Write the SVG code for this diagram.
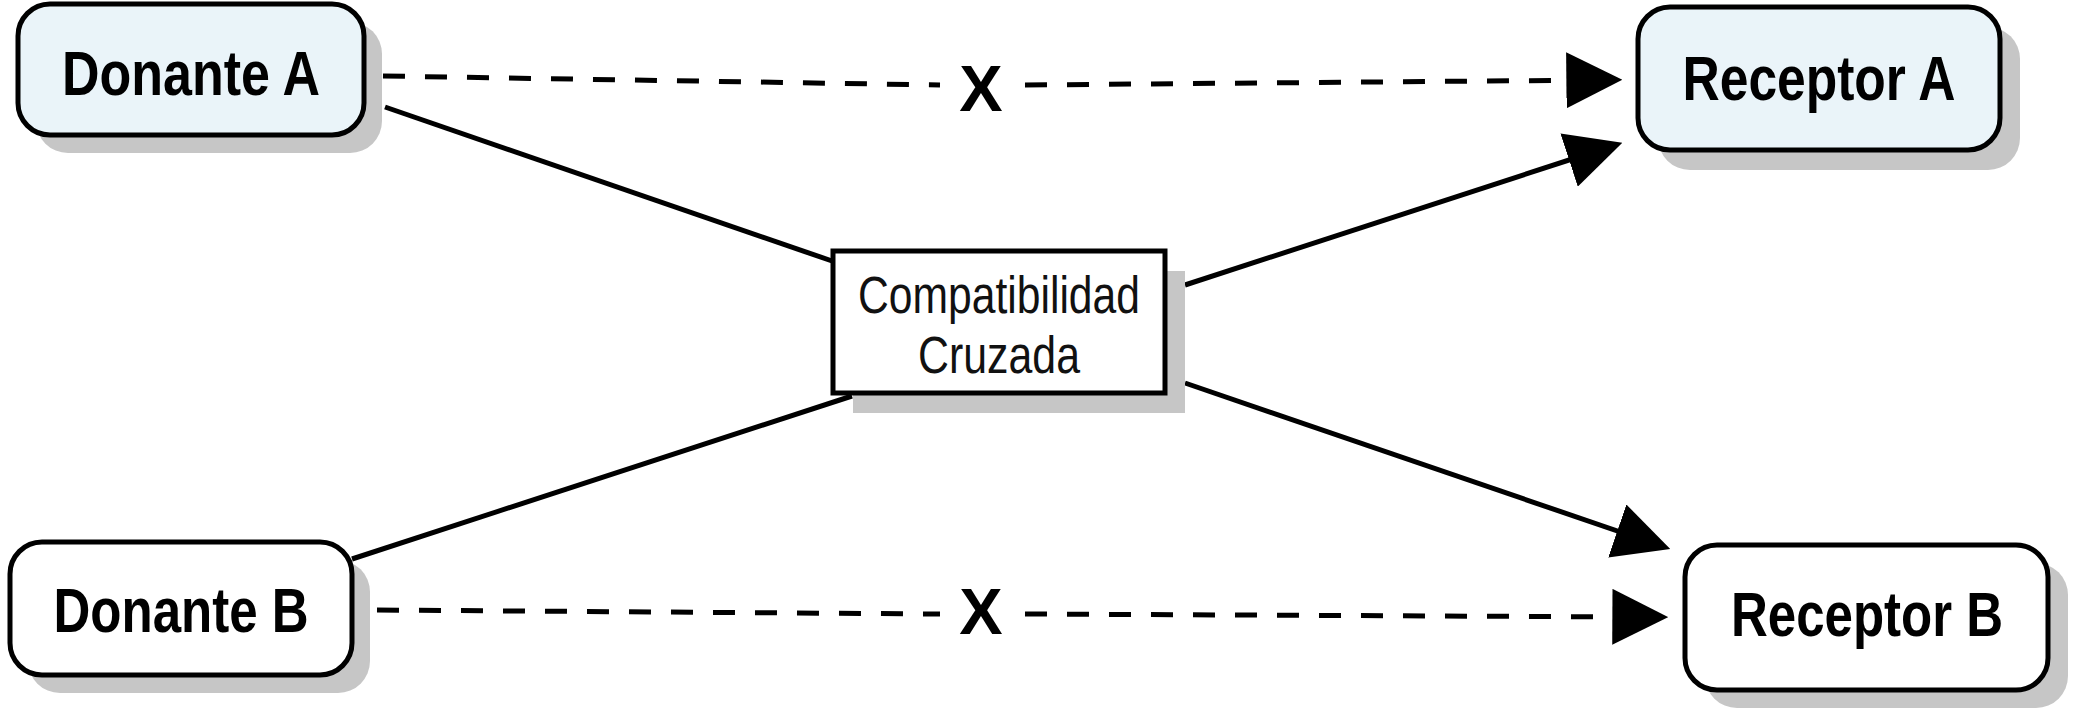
<svg xmlns="http://www.w3.org/2000/svg" width="2073" height="725" viewBox="0 0 2073 725">
<style>
.shadow{fill:#c6c6c6;stroke:none}
.box{stroke:#000;stroke-width:5}
.blue{fill:#eaf4f9}
.white{fill:#ffffff}
.lbl{font-family:"Liberation Sans Narrow","Arial Narrow","Liberation Sans",Arial,sans-serif;font-weight:bold;font-size:63px;fill:#000;text-anchor:middle}
.mid{font-family:"Liberation Sans Narrow","Arial Narrow","Liberation Sans",Arial,sans-serif;font-size:51px;fill:#111;text-anchor:middle}
.x{font-family:"Liberation Sans",Arial,sans-serif;font-weight:bold;font-size:65px;fill:#000;text-anchor:middle}
.solid{fill:none;stroke:#000;stroke-width:5}
.dash{fill:none;stroke:#000;stroke-width:5;stroke-dasharray:22 20}
</style>
<defs>
<marker id="arr" markerUnits="userSpaceOnUse" markerWidth="56" markerHeight="56" viewBox="0 0 55 55" refX="35" refY="27.5" orient="auto">
<path d="M0,0 L55,27.5 L0,55 z" fill="#000"/>
</marker>
</defs>
<rect width="2073" height="725" fill="#fff"/>
<g id="connectors">
<path class="solid" d="M385,107 L835,262"/>
<path class="solid" d="M352,559 L852,396"/>
<path class="solid" d="M1185,285 L1603,149" marker-end="url(#arr)"/>
<path class="solid" d="M1185,383 L1651,542.5" marker-end="url(#arr)"/>
<path class="dash" d="M383,76 L940,85 M1025,85 L1602,80" marker-end="url(#arr)"/>
<path class="dash" d="M377,610 L940,614 M1025,614 L1648,617" marker-end="url(#arr)"/>
<text class="x" x="981" y="111">X</text>
<text class="x" x="981" y="634">X</text>
</g>
<g id="donanteA">
<rect class="shadow" x="36" y="22" width="346" height="131" rx="32"/>
<rect class="box blue" x="18" y="4" width="346" height="131" rx="32"/>
<text class="lbl" x="191" y="95" textLength="258" lengthAdjust="spacingAndGlyphs">Donante A</text>
</g>
<g id="receptorA">
<rect class="shadow" x="1658" y="27" width="362" height="143" rx="32"/>
<rect class="box blue" x="1638" y="7" width="362" height="143" rx="32"/>
<text class="lbl" x="1819" y="100" textLength="273" lengthAdjust="spacingAndGlyphs">Receptor A</text>
</g>
<g id="compat">
<rect class="shadow" x="853" y="271" width="332" height="142"/>
<rect class="box white" x="833" y="251" width="332" height="142"/>
<text class="mid" x="999" y="313" textLength="282" lengthAdjust="spacingAndGlyphs">Compatibilidad</text>
<text class="mid" x="999" y="373" textLength="162" lengthAdjust="spacingAndGlyphs">Cruzada</text>
</g>
<g id="donanteB">
<rect class="shadow" x="28" y="560" width="342" height="133" rx="32"/>
<rect class="box white" x="10" y="542" width="342" height="133" rx="32"/>
<text class="lbl" x="181" y="632" textLength="255" lengthAdjust="spacingAndGlyphs">Donante B</text>
</g>
<g id="receptorB">
<rect class="shadow" x="1705" y="563" width="363" height="145" rx="32"/>
<rect class="box white" x="1685" y="545" width="363" height="145" rx="32"/>
<text class="lbl" x="1867" y="636" textLength="272" lengthAdjust="spacingAndGlyphs">Receptor B</text>
</g>
</svg>
